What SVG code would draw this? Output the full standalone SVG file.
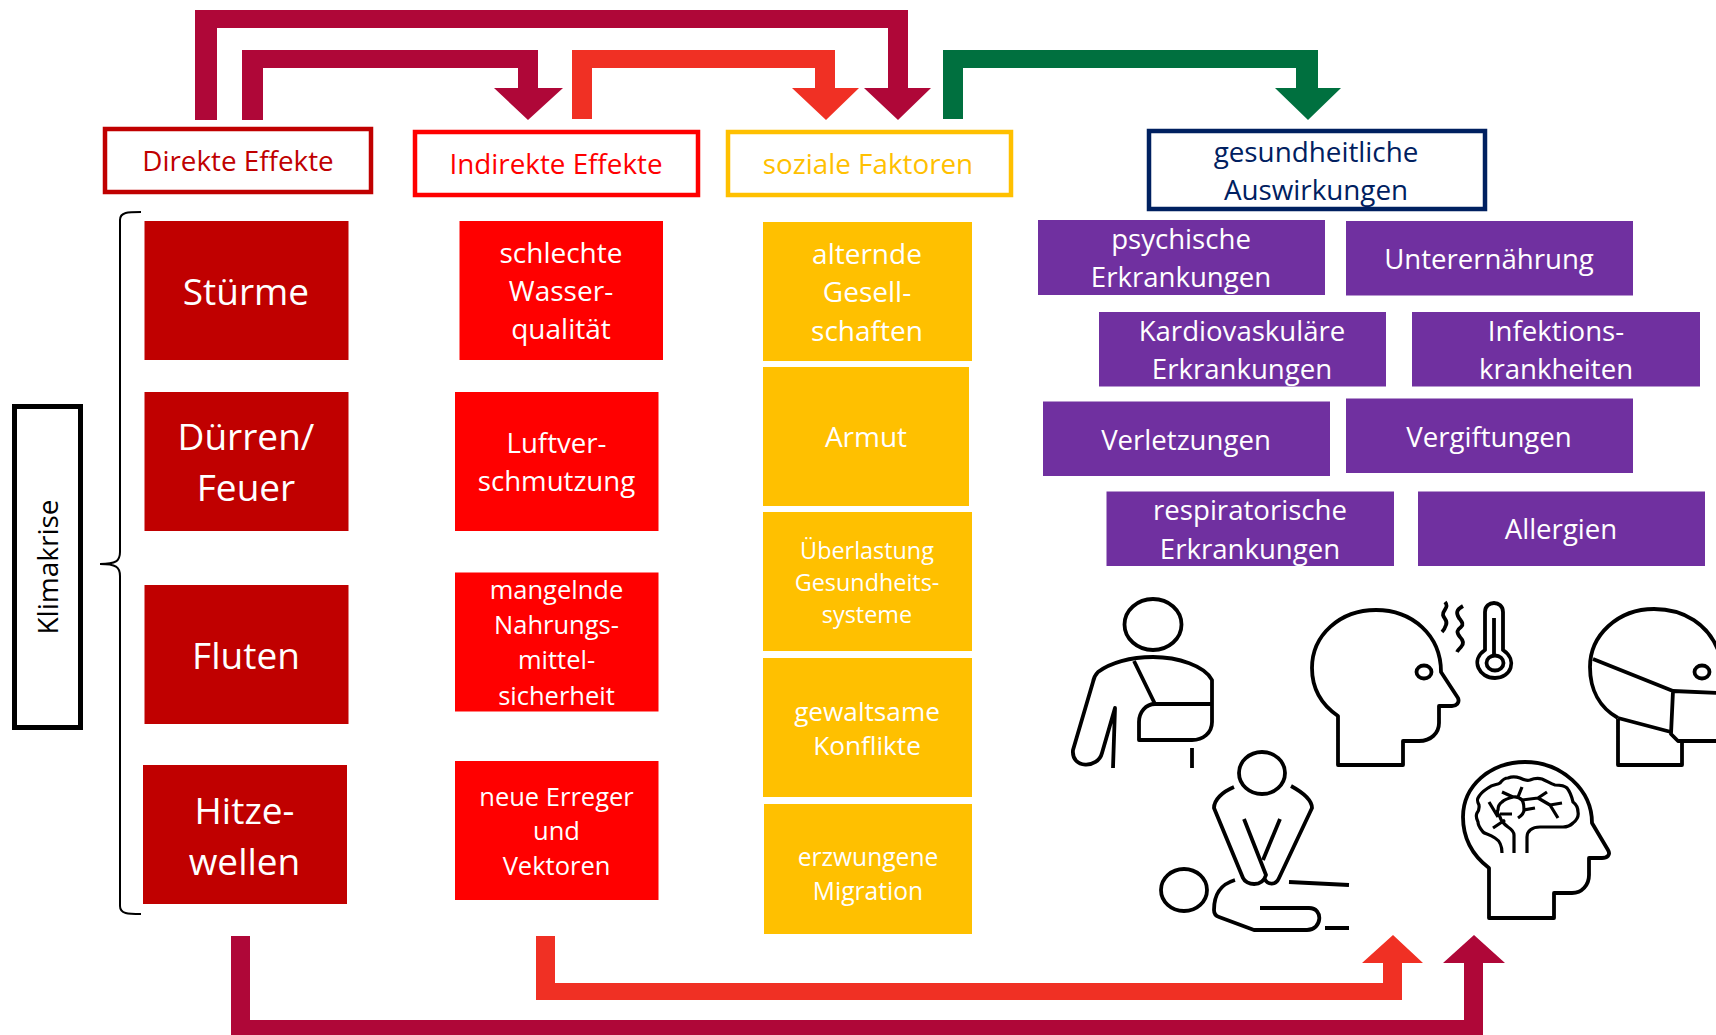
<svg xmlns="http://www.w3.org/2000/svg" width="1716" height="1035" viewBox="0 0 1716 1035">
<style>
text{font-family:"Open Sans","Noto Sans",sans-serif;text-anchor:middle}
.w{fill:#fff}
.h{font-size:27.800px}
.xl{font-size:37px}
.l{font-size:28px}
.m{font-size:25.500px}
.g{font-size:26.200px}
.e{font-size:24.600px}
.s{font-size:23.400px}
.p{font-size:27.600px}
.dr{fill:#C00000}.rd{fill:#FF0000}.ye{fill:#FFC000}.pu{fill:#7030A0}
.ic{fill:none;stroke:#000;stroke-width:3.800;stroke-linejoin:round}
.ar1{fill:#AF0738}.ar2{fill:#F03024}.ar3{fill:#00703F}
</style>
<g id="connectors">
<path class="ar1" d="M195 120V10H908V88H931L898 120L864 88H888V28H217V120Z"/>
<path class="ar1" d="M242 120V50H538V88H563L528 120L494 88H518V68H263V120Z"/>
<path class="ar2" d="M572 119V50H835V88H859L826 120L792 88H815V68H592V119Z"/>
<path class="ar3" d="M943 119V50H1318V88H1341L1308 120L1275 88H1296V68H963V119Z"/>
<path class="ar2" d="M536 936H555V983H1383V963H1362L1393 935L1423 963H1402V1000H536Z"/>
<path class="ar1" d="M231 936H250V1020H1464V963H1443L1474 935L1505 963H1483V1035H231Z"/>
</g>
<g id="brace"><path fill="none" stroke="#000" stroke-width="2" d="M141 212C128 212 120 212 120 220V552C120 561 116 564 100 564C116 564 120 567 120 576V906C120 914 128 914 141 914"/></g>
<g id="klimakrise"><rect x="14.500" y="406.500" width="66" height="321" fill="#fff" stroke="#000" stroke-width="5"/><text font-size="28" transform="translate(58,567) rotate(-90)">Klimakrise</text></g>
<g id="h-direkt"><rect x="105" y="129" width="266" height="63" fill="#fff" stroke="#C00000" stroke-width="4.500"/><text class="h" x="238" y="171" fill="#C00000">Direkte Effekte</text></g>
<g id="h-indirekt"><rect x="415" y="132" width="283" height="63" fill="#fff" stroke="#FF0000" stroke-width="4.500"/><text class="h" x="556" y="174" fill="#FF0000">Indirekte Effekte</text></g>
<g id="h-sozial"><rect x="728" y="132" width="283" height="63" fill="#fff" stroke="#FFC000" stroke-width="4.500"/><text class="h" x="868" y="174" fill="#FFC000">soziale Faktoren</text></g>
<g id="h-gesund"><rect x="1149" y="131" width="336" height="78" fill="#fff" stroke="#002060" stroke-width="4.500"/><text class="h" fill="#002060"><tspan x="1316" y="162">gesundheitliche</tspan><tspan x="1316" y="200">Auswirkungen</tspan></text></g>
<g id="d1"><rect class="dr" x="144.500" y="221" width="204" height="139"/><text class="xl w" x="246" y="305">Stürme</text></g>
<g id="d2"><rect class="dr" x="144.500" y="392" width="204" height="139"/><text class="xl w"><tspan x="246" y="450">Dürren/</tspan><tspan x="246" y="501">Feuer</tspan></text></g>
<g id="d3"><rect class="dr" x="144.500" y="585" width="204" height="139"/><text class="xl w" x="246" y="669">Fluten</text></g>
<g id="d4"><rect class="dr" x="143" y="765" width="204" height="139"/><text class="xl w"><tspan x="244.500" y="824">Hitze-</tspan><tspan x="244.500" y="875">wellen</tspan></text></g>
<g id="r1"><rect class="rd" x="459.500" y="221" width="203.500" height="139"/><text class="l w"><tspan x="561" y="263">schlechte</tspan><tspan x="561" y="301">Wasser-</tspan><tspan x="561" y="339">qualität</tspan></text></g>
<g id="r2"><rect class="rd" x="455" y="392" width="203.500" height="139"/><text class="l w" style="font-size:27.600px"><tspan x="556.500" y="453">Luftver-</tspan><tspan x="556.500" y="491">schmutzung</tspan></text></g>
<g id="r3"><rect class="rd" x="455" y="572.500" width="203.500" height="139"/><text class="m w"><tspan x="556.500" y="599">mangelnde</tspan><tspan x="556.500" y="634">Nahrungs-</tspan><tspan x="556.500" y="669">mittel-</tspan><tspan x="556.500" y="705">sicherheit</tspan></text></g>
<g id="r4"><rect class="rd" x="455" y="761" width="203.500" height="139"/><text class="m w"><tspan x="556.500" y="806">neue Erreger</tspan><tspan x="556.500" y="840">und</tspan><tspan x="556.500" y="875">Vektoren</tspan></text></g>
<g id="y1"><rect class="ye" x="763" y="222" width="209" height="139"/><text class="l w"><tspan x="867" y="264">alternde</tspan><tspan x="867" y="302">Gesell-</tspan><tspan x="867" y="341">schaften</tspan></text></g>
<g id="y2"><rect class="ye" x="763" y="367" width="206" height="139"/><text class="l w" x="866" y="447">Armut</text></g>
<g id="y3"><rect class="ye" x="763" y="512" width="209" height="139"/><text class="s w"><tspan x="867" y="559">Überlastung</tspan><tspan x="867" y="591">Gesundheits-</tspan><tspan x="867" y="623">systeme</tspan></text></g>
<g id="y4"><rect class="ye" x="763" y="658" width="209" height="139"/><text class="g w"><tspan x="867" y="721">gewaltsame</tspan><tspan x="867" y="755">Konflikte</tspan></text></g>
<g id="y5"><rect class="ye" x="764" y="804" width="208" height="130"/><text class="e w"><tspan x="868" y="866">erzwungene</tspan><tspan x="868" y="900">Migration</tspan></text></g>
<g id="p1"><rect class="pu" x="1038" y="220" width="287" height="75"/><text class="p w"><tspan x="1181" y="249">psychische</tspan><tspan x="1181" y="287">Erkrankungen</tspan></text></g>
<g id="p2"><rect class="pu" x="1346" y="221" width="287" height="74.500"/><text class="p w" x="1489" y="269">Unterernährung</text></g>
<g id="p3"><rect class="pu" x="1099" y="312" width="287" height="74.500"/><text class="p w"><tspan x="1242" y="341">Kardiovaskuläre</tspan><tspan x="1242" y="379">Erkrankungen</tspan></text></g>
<g id="p4"><rect class="pu" x="1412" y="312" width="288" height="74.500"/><text class="p w"><tspan x="1556" y="341">Infektions-</tspan><tspan x="1556" y="379">krankheiten</tspan></text></g>
<g id="p5"><rect class="pu" x="1043" y="401.500" width="287" height="74.500"/><text class="p w" x="1186" y="449.500">Verletzungen</text></g>
<g id="p6"><rect class="pu" x="1346" y="398.500" width="287" height="74.500"/><text class="p w" x="1489" y="447">Vergiftungen</text></g>
<g id="p7"><rect class="pu" x="1106.500" y="491.500" width="287.500" height="74.500"/><text class="p w"><tspan x="1250" y="520">respiratorische</tspan><tspan x="1250" y="559">Erkrankungen</tspan></text></g>
<g id="p8"><rect class="pu" x="1418" y="491.500" width="287" height="74.500"/><text class="p w" x="1561" y="539">Allergien</text></g>
<g id="icon-sling" class="ic">
<ellipse cx="1153" cy="624.500" rx="28.500" ry="25.500"/>
<path d="M1113 768L1115 708L1102 753C1098 769 1071 769 1073 750L1093 682C1094 676 1096 674 1098 672C1110 663 1130 657 1153 657C1178 657 1205 666 1212 680V722C1212 733 1203 740 1192 740H1139V722C1139 712 1146 704 1155 704H1212"/>
<path d="M1134 661L1155 704M1192 748V768"/>
</g>
<g id="icon-fever" class="ic">
<path d="M1338 765V716C1322 705 1312 690 1312 668C1312 635 1340 610 1376 610C1412 610 1441 635 1441 672L1458 698C1460 703 1456 706 1452 706H1439V723C1439 733 1431 741 1419 741H1403V765Z"/>
<ellipse cx="1424" cy="672" rx="7.500" ry="6.500"/>
<path d="M1445 602C1450 608 1442 610 1443 615C1444 619 1448 620 1446 625C1445 628 1444 630 1442 632M1463 606C1456 610 1456 613 1459 618C1462 622 1464 624 1461 627C1457 630 1456 632 1460 637C1464 641 1464 644 1461 647C1459 649 1458 650 1457 652"/>
<path d="M1485 650V612C1485 600 1503 600 1503 612V650C1518 660 1511 678 1495 678C1479 678 1470 660 1485 650Z"/>
<ellipse cx="1495" cy="663" rx="8.500" ry="7.500"/>
<path d="M1494 618V655"/>
</g>
<g id="icon-mask" class="ic">
<path d="M1618 718C1600 708 1590 690 1590 667C1590 635 1618 609 1654 609C1685 609 1708 625 1718 650"/>
<path d="M1593 659L1673 691L1718 693M1673 691L1671 734L1678 741H1718M1618 718L1671 732M1618 719V765H1682V741"/>
<ellipse cx="1702" cy="672" rx="7.500" ry="6.500"/>
</g>
<g id="icon-cpr" class="ic">
<ellipse cx="1262" cy="773" rx="23" ry="21"/>
<path d="M1234 787C1222 792 1214 800 1214 808L1243 878C1246 885 1262 888 1266 875L1244 819"/>
<path d="M1291 786C1302 792 1312 800 1312 808L1279 878C1276 885 1268 886 1264 878M1280 819L1263 860"/>
<ellipse cx="1184" cy="890" rx="23" ry="21"/>
<path d="M1235 880C1222 884 1214 892 1214 910C1214 914 1216 916 1219 917L1254 930H1307C1322 930 1324 908 1309 908H1260"/>
<path d="M1289 882L1349 885M1325 928H1349"/>
</g>
<g id="icon-brain" class="ic">
<path d="M1489 918V868C1472 855 1463 838 1463 817C1463 786 1490 762 1525 762C1562 762 1592 790 1592 823L1608 850C1611 855 1607 858 1602 858H1589V875C1589 885 1582 893 1572 893H1554V918Z"/>
<path stroke-width="3.200" d="M1502 853C1502 845 1500 841 1495 838C1489 834 1485 834 1483 832C1480 828 1478 826 1478 822C1476 818 1476 815 1477 813C1480 809 1479 807 1479 805C1477 801 1477 800 1478 798C1481 792 1485 790 1488 788C1493 784 1497 785 1500 783C1503 779 1505 778 1508 778C1513 776 1517 777 1520 778C1524 780 1527 781 1530 780C1535 778 1538 778 1542 779C1547 781 1551 784 1555 785C1561 785 1565 786 1567 788C1571 793 1572 798 1573 802C1577 805 1578 809 1578 812C1579 817 1577 820 1573 823C1570 826 1566 827 1563 827H1540C1532 827 1527 831 1527 837V853"/>
<path stroke-width="3.200" d="M1514 853V835C1514 831 1511 829 1508 827C1504 824 1501 821 1500 817C1497 813 1497 811 1498 810C1498 806 1499 804 1502 802C1505 799 1509 798 1513 797C1518 796 1520 798 1522 800C1524 803 1524 807 1524 810C1524 813 1521 816 1518 818"/>
<path stroke-width="3.200" d="M1489 802L1498 817M1493 828L1505 820M1500 814H1512M1502 792L1513 797M1522 787L1518 797M1522 800L1538 798L1547 792M1538 798L1550 805L1562 803M1550 805L1558 818M1524 810L1535 808"/>
</g>
</svg>
